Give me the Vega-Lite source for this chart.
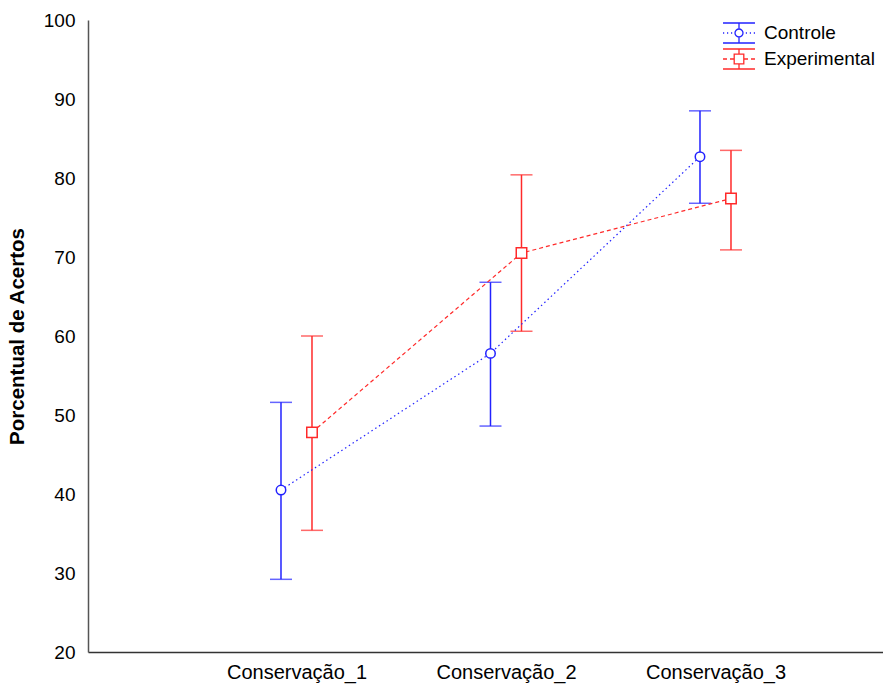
{
  "$schema": "https://vega.github.io/schema/vega-lite/v6.json",
  "width": 795,
  "height": 632,
  "autosize": {"type": "none"},
  "padding": {"left": 88, "top": 20, "right": 0, "bottom": 33},
  "background": "white",
  "config": {
    "font": "Liberation Sans",
    "view": {"stroke": null},
    "axis": {"grid": false, "ticks": false, "labelColor": "black", "titleColor": "black"}
  },
  "data": {
    "values": [
      {"cond": "Conservação_1", "grupo": "Controle", "media": 40.5, "inf": 29.2, "sup": 51.6},
      {"cond": "Conservação_2", "grupo": "Controle", "media": 57.8, "inf": 48.6, "sup": 66.8},
      {"cond": "Conservação_3", "grupo": "Controle", "media": 82.7, "inf": 76.8, "sup": 88.5},
      {"cond": "Conservação_1", "grupo": "Experimental", "media": 47.8, "inf": 35.4, "sup": 60.0},
      {"cond": "Conservação_2", "grupo": "Experimental", "media": 70.5, "inf": 60.6, "sup": 80.4},
      {"cond": "Conservação_3", "grupo": "Experimental", "media": 77.4, "inf": 70.9, "sup": 83.5}
    ]
  },
  "resolve": {"scale": {"color": "independent"}, "legend": {"color": "independent", "shape": "independent"}},
  "encoding": {
    "x": {
      "field": "cond", "type": "nominal",
      "scale": {"type": "point", "padding": 0.8974, "align": 0.5545},
      "axis": {"title": null, "labelAngle": 0, "labelFontSize": 20, "labelPadding": 10, "domainColor": "#333333", "domainWidth": 1.5}
    },
    "xOffset": {"field": "grupo", "type": "nominal", "scale": {"type": "point", "range": [-15.5, 15.5], "padding": 0}},
    "color": {
      "field": "grupo", "type": "nominal",
      "scale": {"domain": ["Controle", "Experimental"], "range": ["#2222ff", "#ff2a2a"]},
      "legend": null
    }
  },
  "layer": [
    {
      "mark": {"type": "rule", "strokeWidth": 1.5},
      "encoding": {
        "y": {
          "field": "inf", "type": "quantitative",
          "scale": {"domain": [20, 100], "nice": false, "zero": false},
          "axis": {"title": "Porcentual de Acertos", "titleFontSize": 20.5, "titleFontWeight": "bold", "titlePadding": 16, "labelFontSize": 19, "labelPadding": 13, "values": [20, 30, 40, 50, 60, 70, 80, 90, 100], "domainColor": "#555555", "domainWidth": 1.5}
        },
        "y2": {"field": "sup"}
      }
    },
    {
      "mark": {"type": "tick", "size": 22, "thickness": 1.5},
      "encoding": {"y": {"field": "inf", "type": "quantitative"}}
    },
    {
      "mark": {"type": "tick", "size": 22, "thickness": 1.5},
      "encoding": {"y": {"field": "sup", "type": "quantitative"}}
    },
    {
      "transform": [{"filter": "datum.grupo === 'Controle'"}],
      "mark": {"type": "line", "strokeWidth": 1.2, "strokeDash": [1.5, 3]},
      "encoding": {"y": {"field": "media", "type": "quantitative"}}
    },
    {
      "transform": [{"filter": "datum.grupo === 'Experimental'"}],
      "mark": {"type": "line", "strokeWidth": 1.2, "strokeDash": [4, 3]},
      "encoding": {"y": {"field": "media", "type": "quantitative"}}
    },
    {
      "mark": {"type": "point", "filled": false, "strokeWidth": 1.3},
      "encoding": {
        "y": {"field": "media", "type": "quantitative"},
        "opacity": {"value": 0},
        "color": {
          "field": "grupo", "type": "nominal",
          "scale": {"domain": ["Controle", "Experimental"], "range": ["#2222ff", "#ff2a2a"]},
          "legend": {
            "title": null, "orient": "none", "legendX": 638, "legendY": 0,
            "symbolSize": 576, "symbolOpacity": 1, "symbolStrokeWidth": 1.3, "symbolFillColor": "transparent",
            "labelFontSize": 19, "labelOffset": 12, "labelColor": "black", "rowPadding": -4, "padding": 0
          }
        },
        "shape": {
          "field": "grupo", "type": "nominal",
          "scale": {"domain": ["Controle", "Experimental"], "range": [
            "M-1.333,-0.833H1.333M-1.333,0.833H1.333M0,-0.833V-0.333M0,0.333V0.833M-0.333,0A0.333,0.333 0 1,0 0.333,0A0.333,0.333 0 1,0 -0.333,0M-1.333,0H-1.233M-1,0H-0.9M-0.667,0H-0.567M0.567,0H0.667M0.9,0H1M1.233,0H1.333",
            "M-1.333,-0.833H1.333M-1.333,0.833H1.333M0,-0.833V-0.4M0,0.4V0.833M-0.4,-0.4H0.4V0.4H-0.4ZM-1.333,0H-1M-0.75,0H-0.45M0.45,0H0.75M1,0H1.333"
          ]}
        }
      }
    },
    {
      "transform": [{"filter": "datum.grupo === 'Controle'"}],
      "mark": {"type": "point", "shape": "circle", "filled": false, "fill": "white", "fillOpacity": 1, "size": 90, "strokeWidth": 1.5, "opacity": 1},
      "encoding": {"y": {"field": "media", "type": "quantitative"}}
    },
    {
      "transform": [{"filter": "datum.grupo === 'Experimental'"}],
      "mark": {"type": "point", "shape": "square", "filled": false, "fill": "white", "fillOpacity": 1, "size": 110, "strokeWidth": 1.5, "opacity": 1},
      "encoding": {"y": {"field": "media", "type": "quantitative"}}
    }
  ]
}
